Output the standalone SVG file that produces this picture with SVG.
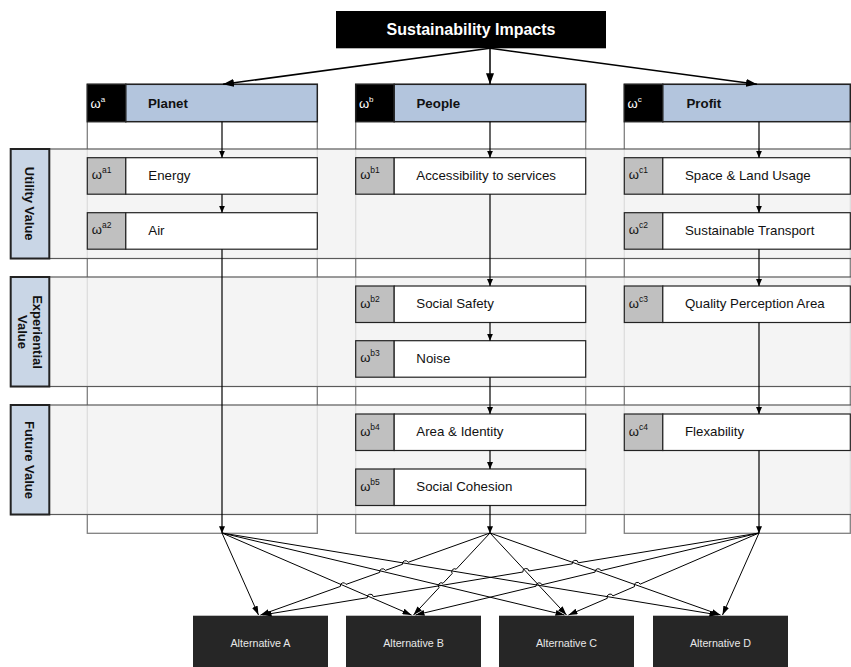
<svg xmlns="http://www.w3.org/2000/svg" width="851" height="667" viewBox="0 0 851 667">
<defs>
<style>
text{font-family:"Liberation Sans",Arial,sans-serif}
.col{fill:#fff;stroke:#808080;stroke-width:1.3}
.band{fill:#f2f2f2;fill-opacity:0.82;stroke:#5a5a5a;stroke-width:1.2}
.lab{fill:#c9d6e6;stroke:#222;stroke-width:2}
.labt{font-size:13px;font-weight:bold;fill:#111;text-anchor:middle}
.hw{fill:#000;stroke:#222;stroke-width:1.5}
.hb{fill:#b3c5dd;stroke:#222;stroke-width:1.5}
.ht{font-size:13.3px;font-weight:bold;fill:#111}
.hom{font-size:13px;fill:#fff}
.nw{fill:#c0c0c0;stroke:#222;stroke-width:1.2}
.nb{fill:#fff;stroke:#222;stroke-width:1.2}
.nt{font-size:13.3px;fill:#111}
.om{font-size:13px;fill:#111}
.alt{fill:#262626}
.altt{font-size:10.7px;fill:#e8e8e8;text-anchor:middle}
.h{stroke:#000;stroke-width:1.5;fill:none;marker-end:url(#big)}
.c{stroke:#000;stroke-width:1.2;fill:none;marker-end:url(#sm)}
.f{stroke:#000;stroke-width:1;fill:none;marker-end:url(#fan)}
</style>
<marker id="big" viewBox="0 0 11 8" refX="11" refY="4" markerWidth="11" markerHeight="8" markerUnits="userSpaceOnUse" orient="auto"><path d="M0,0 L11,4 L0,8 z" fill="#000"/></marker>
<marker id="sm" viewBox="0 0 7 6" refX="7" refY="3" markerWidth="7" markerHeight="6" markerUnits="userSpaceOnUse" orient="auto"><path d="M0,0 L7,3 L0,6 z" fill="#000"/></marker>
<marker id="fan" viewBox="0 0 9 6" refX="9" refY="3" markerWidth="9" markerHeight="6" markerUnits="userSpaceOnUse" orient="auto"><path d="M0,0 L9,3 L0,6 z" fill="#000"/></marker>
</defs>
<rect width="851" height="667" fill="#fff"/>

<g id="columns">
<rect class="col" x="87.3" y="84.3" width="230" height="449"/>
<rect class="col" x="355.7" y="84.3" width="230" height="449"/>
<rect class="col" x="624.3" y="84.3" width="226" height="449"/>
</g>

<g id="row-utility">
<rect class="band" x="10.7" y="149" width="845" height="109.5"/>
<rect class="lab" x="10.7" y="149" width="38.6" height="109.5"/>
<text class="labt" transform="translate(30,203.7) rotate(90)" y="4.6">Utility Value</text>
</g>
<g id="row-experiential">
<rect class="band" x="10.7" y="277" width="845" height="109.5"/>
<rect class="lab" x="10.7" y="277" width="38.6" height="109.5"/>
<text class="labt" transform="translate(37.8,332) rotate(90)" y="4.6">Experiential</text>
<text class="labt" transform="translate(22.6,332) rotate(90)" y="4.6">Value</text>
</g>
<g id="row-future">
<rect class="band" x="10.7" y="405" width="845" height="109.5"/>
<rect class="lab" x="10.7" y="405" width="38.6" height="109.5"/>
<text class="labt" transform="translate(30,460) rotate(90)" y="4.6">Future Value</text>
</g>

<g id="sustainability">
<rect x="336" y="11" width="270" height="37.3" fill="#000"/>
<text x="471" y="34.8" font-size="16" font-weight="bold" fill="#fff" text-anchor="middle">Sustainability Impacts</text>
</g>

<g id="planet">
<rect class="hw" x="87.3" y="84.3" width="38.5" height="37.4"/>
<rect class="hb" x="125.8" y="84.3" width="191.5" height="37.4"/>
<text class="hom" x="90.5" y="107.5">ω<tspan font-size="8" dy="-6">a</tspan></text>
<text class="ht" x="148" y="107.8">Planet</text>
</g>
<g id="people">
<rect class="hw" x="355.7" y="84.3" width="38.5" height="37.4"/>
<rect class="hb" x="394.2" y="84.3" width="191.5" height="37.4"/>
<text class="hom" x="358.9" y="107.5">ω<tspan font-size="8" dy="-6">b</tspan></text>
<text class="ht" x="416.5" y="107.8">People</text>
</g>
<g id="profit">
<rect class="hw" x="624.3" y="84.3" width="38.5" height="37.4"/>
<rect class="hb" x="662.8" y="84.3" width="187.5" height="37.4"/>
<text class="hom" x="627.5" y="107.5">ω<tspan font-size="8" dy="-6">c</tspan></text>
<text class="ht" x="686.5" y="107.8">Profit</text>
</g>

<g id="energy">
<rect class="nw" x="87.3" y="157.7" width="38.5" height="36.5"/><rect class="nb" x="125.8" y="157.7" width="191.5" height="36.5"/>
<text class="om" x="91.8" y="179.2">ω<tspan font-size="8.5" dy="-6">a1</tspan></text>
<text class="nt" x="148.3" y="180">Energy</text>
</g>
<g id="air">
<rect class="nw" x="87.3" y="212.7" width="38.5" height="36.5"/><rect class="nb" x="125.8" y="212.7" width="191.5" height="36.5"/>
<text class="om" x="91.8" y="234.2">ω<tspan font-size="8.5" dy="-6">a2</tspan></text>
<text class="nt" x="148.3" y="235">Air</text>
</g>

<g id="accessibility">
<rect class="nw" x="355.7" y="157.7" width="38.5" height="36.5"/><rect class="nb" x="394.2" y="157.7" width="191.5" height="36.5"/>
<text class="om" x="360.2" y="179.2">ω<tspan font-size="8.5" dy="-6">b1</tspan></text>
<text class="nt" x="416.3" y="180">Accessibility to services</text>
</g>
<g id="social-safety">
<rect class="nw" x="355.7" y="286" width="38.5" height="36.5"/><rect class="nb" x="394.2" y="286" width="191.5" height="36.5"/>
<text class="om" x="360.2" y="307.5">ω<tspan font-size="8.5" dy="-6">b2</tspan></text>
<text class="nt" x="416.3" y="308.3">Social Safety</text>
</g>
<g id="noise">
<rect class="nw" x="355.7" y="340.7" width="38.5" height="36.5"/><rect class="nb" x="394.2" y="340.7" width="191.5" height="36.5"/>
<text class="om" x="360.2" y="362.2">ω<tspan font-size="8.5" dy="-6">b3</tspan></text>
<text class="nt" x="416.3" y="363">Noise</text>
</g>
<g id="area-identity">
<rect class="nw" x="355.7" y="414" width="38.5" height="36.5"/><rect class="nb" x="394.2" y="414" width="191.5" height="36.5"/>
<text class="om" x="360.2" y="435.5">ω<tspan font-size="8.5" dy="-6">b4</tspan></text>
<text class="nt" x="416.3" y="436.3">Area &amp; Identity</text>
</g>
<g id="social-cohesion">
<rect class="nw" x="355.7" y="469" width="38.5" height="36.5"/><rect class="nb" x="394.2" y="469" width="191.5" height="36.5"/>
<text class="om" x="360.2" y="490.5">ω<tspan font-size="8.5" dy="-6">b5</tspan></text>
<text class="nt" x="416.3" y="491.3">Social Cohesion</text>
</g>

<g id="space-land">
<rect class="nw" x="624.3" y="157.7" width="38.5" height="36.5"/><rect class="nb" x="662.8" y="157.7" width="187.5" height="36.5"/>
<text class="om" x="628.8" y="179.2">ω<tspan font-size="8.5" dy="-6">c1</tspan></text>
<text class="nt" x="685" y="180">Space &amp; Land Usage</text>
</g>
<g id="sustainable-transport">
<rect class="nw" x="624.3" y="212.7" width="38.5" height="36.5"/><rect class="nb" x="662.8" y="212.7" width="187.5" height="36.5"/>
<text class="om" x="628.8" y="234.2">ω<tspan font-size="8.5" dy="-6">c2</tspan></text>
<text class="nt" x="685" y="235">Sustainable Transport</text>
</g>
<g id="quality-perception">
<rect class="nw" x="624.3" y="286" width="38.5" height="36.5"/><rect class="nb" x="662.8" y="286" width="187.5" height="36.5"/>
<text class="om" x="628.8" y="307.5">ω<tspan font-size="8.5" dy="-6">c3</tspan></text>
<text class="nt" x="685" y="308.3">Quality Perception Area</text>
</g>
<g id="flexability">
<rect class="nw" x="624.3" y="414" width="38.5" height="36.5"/><rect class="nb" x="662.8" y="414" width="187.5" height="36.5"/>
<text class="om" x="628.8" y="435.5">ω<tspan font-size="8.5" dy="-6">c4</tspan></text>
<text class="nt" x="685" y="436.3">Flexability</text>
</g>

<g id="alt-a"><rect class="alt" x="193" y="615.7" width="135" height="56"/><text class="altt" x="260.5" y="646.5">Alternative A</text></g>
<g id="alt-b"><rect class="alt" x="346" y="615.7" width="135" height="56"/><text class="altt" x="413.5" y="646.5">Alternative B</text></g>
<g id="alt-c"><rect class="alt" x="499" y="615.7" width="135" height="56"/><text class="altt" x="566.5" y="646.5">Alternative C</text></g>
<g id="alt-d"><rect class="alt" x="653" y="615.7" width="135" height="56"/><text class="altt" x="720.5" y="646.5">Alternative D</text></g>

<g id="connectors">
<path class="h" d="M490,48.3 L223,84.3"/>
<path class="h" d="M490,48.3 L490,84.3"/>
<path class="h" d="M490,48.3 L757,84.3"/>

<path class="c" d="M222,121.7 L222,157.7"/>
<path class="c" d="M222,194.2 L222,212.7"/>
<path class="c" d="M222,249.2 L222,533.3"/>

<path class="c" d="M490,121.7 L490,157.7"/>
<path class="c" d="M490,194.2 L490,286"/>
<path class="c" d="M490,322.5 L490,340.7"/>
<path class="c" d="M490,377.2 L490,414"/>
<path class="c" d="M490,450.5 L490,469"/>
<path class="c" d="M490,505.5 L490,533.3"/>

<path class="c" d="M759,121.7 L759,157.7"/>
<path class="c" d="M759,194.2 L759,212.7"/>
<path class="c" d="M759,249.2 L759,286"/>
<path class="c" d="M759,322.5 L759,414"/>
<path class="c" d="M759,450.5 L759,533.3"/>

<path class="f" d="M222,533 L258.5,615"/>
<path class="f" d="M222,533 L411.5,615"/>
<path class="f" d="M222,533 L564.5,615"/>
<path class="f" d="M222,533 L718.5,615"/>

<path class="f" d="M490,533 L408.1,562.3 A3,3 0 0 0 402.5,564.3 L385.3,570.4 A3,3 0 0 0 379.7,572.4 L346,584.4 A3,3 0 0 0 340.4,586.4 L260.5,615"/>
<path class="f" d="M490,533 L456.2,569.2 A3,3 0 0 0 452.2,573.5 L443,583.3 A3,3 0 0 0 439,587.7 L413.5,615"/>
<path class="f" d="M490,533 L566.5,615"/>
<path class="f" d="M490,533 L720.5,615"/>

<path class="f" d="M759,533 L578.3,562.8 A3,3 0 0 0 572.3,563.8 L528.9,571 A3,3 0 0 0 522.9,572 L373.3,596.7 A3,3 0 0 0 367.3,597.7 L262.5,615"/>
<path class="f" d="M759,533 L600.9,570.7 A3,3 0 0 0 595.1,572.1 L541.9,584.8 A3,3 0 0 0 536.1,586.2 L415.5,615"/>
<path class="f" d="M759,533 L640.1,584.2 A3,3 0 0 0 634.5,586.6 L612.9,595.9 A3,3 0 0 0 607.3,598.3 L568.5,615"/>
<path class="f" d="M759,533 L722.5,615"/>
</g>
</svg>
